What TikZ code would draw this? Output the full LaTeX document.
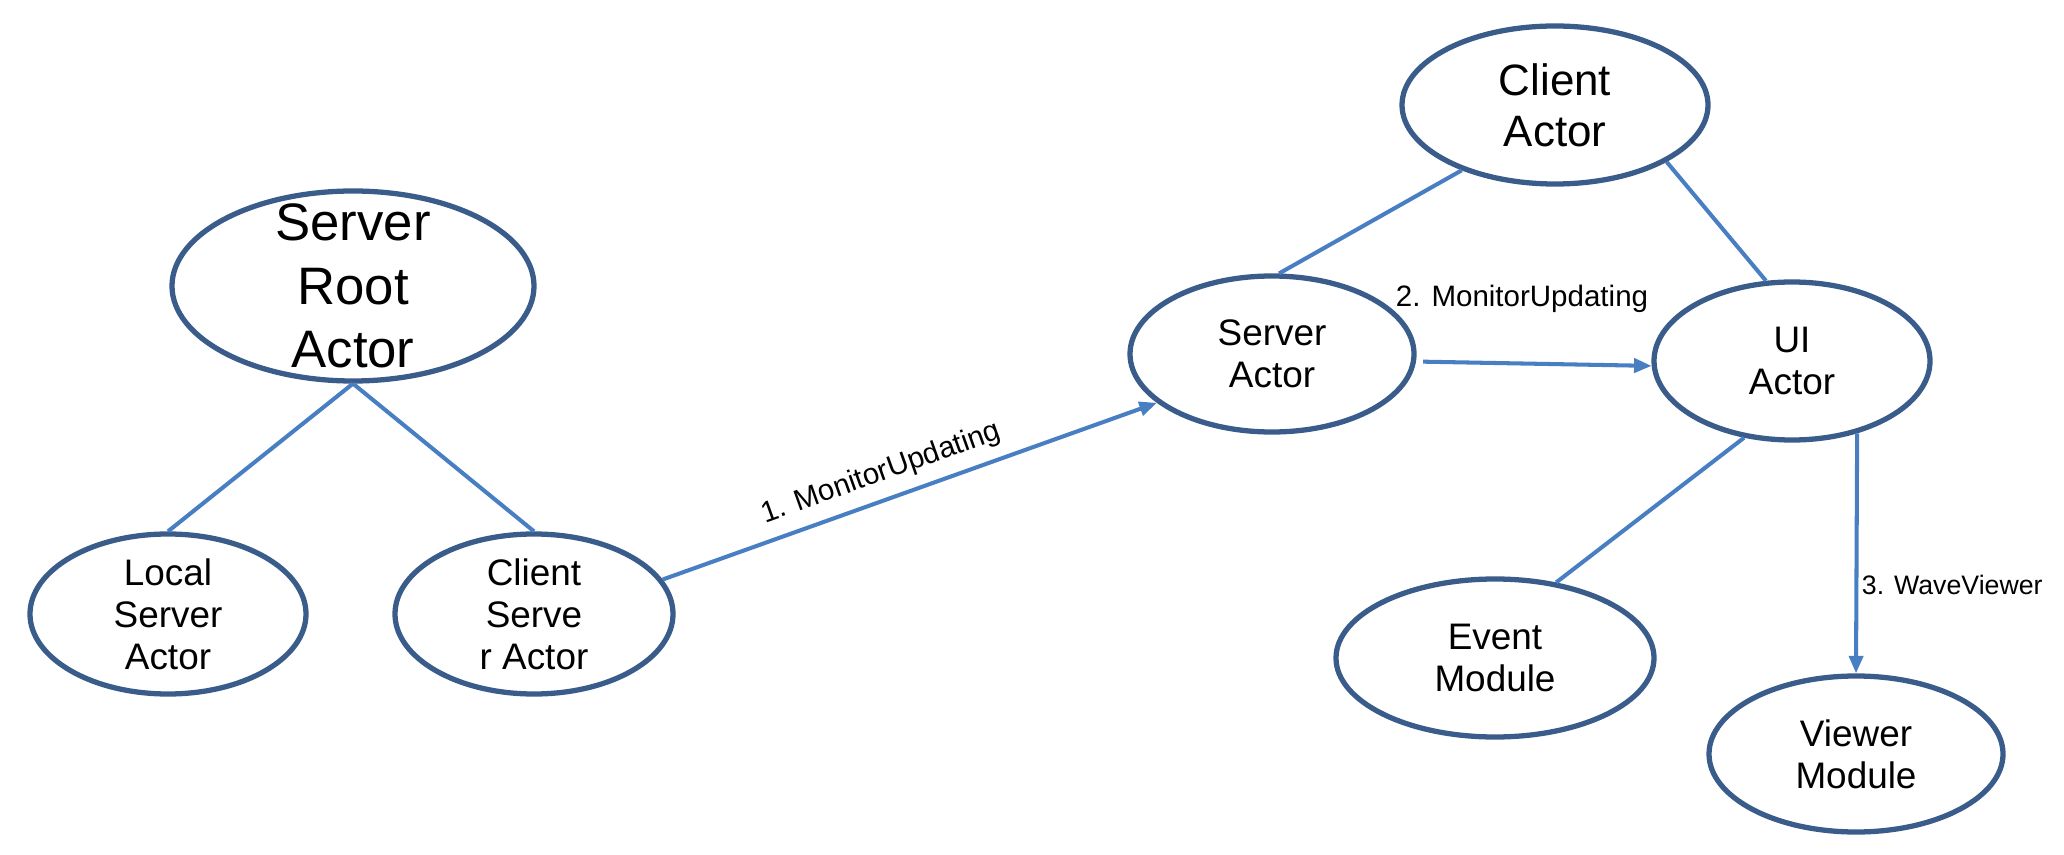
\documentclass[tikz,border=0pt]{standalone}
\usepackage{fontspec}
\setmainfont{Liberation Sans}
\usetikzlibrary{shapes.geometric,arrows.meta}
\definecolor{actorblue}{RGB}{58,92,138}
\definecolor{linkblue}{RGB}{72,126,194}
\begin{document}
\begin{tikzpicture}[
	actor/.style={ellipse, draw=actorblue, line width=1.5pt, inner sep=0pt},
	txt/.style={align=center, font=\fontsize{10.5}{12}\selectfont},
	link/.style={draw=linkblue, line width=1.15pt},
	msg/.style={link, -{Triangle[length=5pt,width=4pt]}},
	msgtxt/.style={font=\fontsize{8.4}{10}\selectfont, inner sep=1pt}
	]
	\useasboundingbox (0,0) rectangle (20.64,-8.55);
	% server side
	\node[actor, minimum width=3.62cm, minimum height=1.90cm, label={[txt, font=\fontsize{15}{18}\selectfont]center:{Server\\Root\\Actor}}](root) at (3.53,-2.86){};
	\node[actor, minimum width=2.76cm, minimum height=1.60cm, label={[txt]center:{Local\\Server\\Actor}}](lsa) at (1.68,-6.14){};
	\node[actor, minimum width=2.78cm, minimum height=1.60cm, label={[txt]center:{Client\\Serve\\r Actor}}](csa) at (5.34,-6.14){};
	% client side
	\node[actor, minimum width=3.06cm, minimum height=1.58cm, label={[txt, font=\fontsize{12.5}{14.5}\selectfont]center:{Client\\Actor}}](ca) at (15.55,-1.05){};
	\node[actor, minimum width=2.84cm, minimum height=1.56cm, label={[txt]center:{Server\\Actor}}](sa) at (12.72,-3.54){};
	\node[actor, minimum width=2.76cm, minimum height=1.58cm, label={[txt]center:{UI\\Actor}}](ui) at (17.92,-3.61){};
	\node[actor, minimum width=3.18cm, minimum height=1.58cm, label={[txt]center:{Event\\Module}}](em) at (14.95,-6.58){};
	\node[actor, minimum width=2.94cm, minimum height=1.56cm, label={[txt]center:{Viewer\\Module}}](vm) at (18.56,-7.54){};
	% links
	\draw[link] (root.south) -- (lsa.north);
	\draw[link] (root.south) -- (csa.north);
	\draw[link] (ca.215) -- (sa.85);
	\draw[link] (ca.333) -- (ui.108);
	\draw[link] (ui.238) -- (em.51);
	% messages
	\draw[msg] (csa.15) -- (sa.203) node[msgtxt, pos=0.46, above=2pt, sloped]{1. MonitorUpdating};
	\draw[msg, shorten <=2pt] (sa.-3) -- (ui.182) node[msgtxt, pos=0.45, above=13pt]{2. MonitorUpdating};
	\draw[msg] (ui.312) -- (vm.north) node[msgtxt, font=\fontsize{7.6}{9}\selectfont, pos=0.63, right]{3. WaveViewer};
\end{tikzpicture}
\end{document}
